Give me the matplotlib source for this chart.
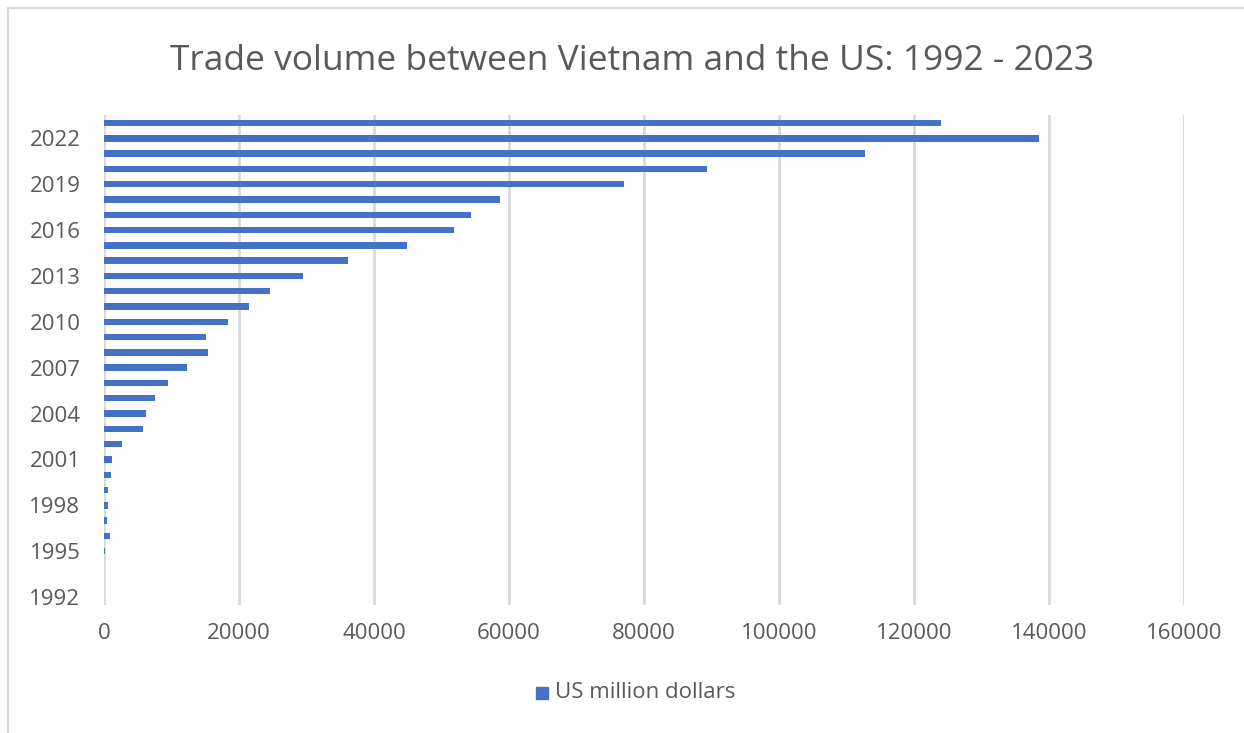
import matplotlib.pyplot as plt
from matplotlib.lines import Line2D
from matplotlib.patches import Rectangle

# Data
years = list(range(1992, 2024))
trade = [0, 0, 0, 200, 850, 400, 650, 650, 1040, 1180, 2650, 5800, 6150, 7600,
         9500, 12300, 15400, 15100, 18400, 21500, 24600, 29500, 36100, 44900,
         51900, 54400, 58700, 77000, 89300, 112700, 138500, 124000]
label_years = years[::3]
x_ticks = [0, 20000, 40000, 60000, 80000, 100000, 120000, 140000, 160000]

plt.rcParams['font.family'] = ['Open Sans', 'DejaVu Sans']
grey = '#595959'
blue = '#4472c4'

fig = plt.figure(figsize=(12.44, 7.33), dpi=100)
ax = fig.add_axes([0.0836, 0.175, 0.8682, 0.6676])

pos = list(range(len(years)))
ax.barh(pos, trade, height=0.42, color=blue, zorder=3)

ax.set_xlim(0, 160000)
ax.set_ylim(-0.5, len(years) - 0.5)
ax.set_xticks(x_ticks)
ax.set_xticklabels([str(t) for t in x_ticks])
ax.set_yticks([years.index(y) for y in label_years])
ax.set_yticklabels([str(y) for y in label_years])
ax.tick_params(axis='both', length=0, labelsize=16, colors=grey)
ax.tick_params(axis='x', pad=13)
ax.tick_params(axis='y', pad=17)

# vertical gridlines
ax.grid(axis='x', color='#d9d9d9', linewidth=2, zorder=0)
ax.grid(axis='y', visible=False)
for s in ax.spines.values():
    s.set_visible(False)

fig.text(0.508, 0.917, 'Trade volume between Vietnam and the US: 1992 - 2023',
         ha='center', va='center', fontsize=25.5, color=grey)

# legend
fig.patches.append(Rectangle((536 / 1244, 1 - 699 / 733), 12 / 1244, 12 / 733,
                             transform=fig.transFigure, color=blue))
fig.text(555 / 1244, 1 - 693 / 733, 'US million dollars', ha='left', va='center',
         fontsize=16, color=grey)

# chart border
fig.lines.append(Line2D([8 / 1244, 8 / 1244], [0, 1 - 8 / 733], transform=fig.transFigure,
                        color='#d9d9d9', linewidth=1.5))
fig.lines.append(Line2D([8 / 1244, 1], [1 - 8 / 733, 1 - 8 / 733], transform=fig.transFigure,
                        color='#d9d9d9', linewidth=1.5))

plt.savefig('out.png', dpi=100)
